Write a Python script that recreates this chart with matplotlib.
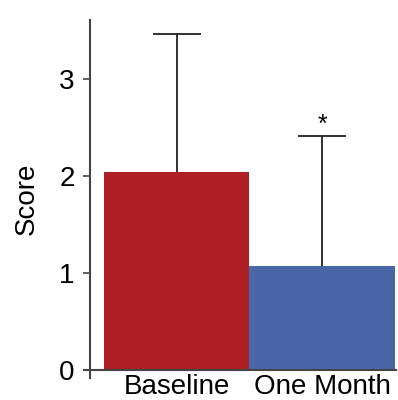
import matplotlib.pyplot as plt

plt.rcParams['font.family'] = ['Liberation Sans', 'DejaVu Sans']

# data
groups = ["Baseline", "One Month"]
means = [2.04, 1.07]
sd_upper = [1.43, 1.34]
bar_colors = ["#B01F26", "#4A66A6"]
significant = [False, True]

fig = plt.figure(figsize=(3.98, 4.0), dpi=100)
ax = fig.add_axes([0.211, 0.055, 0.784, 0.895])

x = list(range(len(groups)))
ax.bar(x, means, width=1.0, color=bar_colors, edgecolor="none", zorder=1)

# upper-only error bars with a cap on top
tops = [m + e for m, e in zip(means, sd_upper)]
ax.vlines(x, means, tops, color="#222222", lw=1.3, zorder=2)
ax.hlines(tops, [xi - 0.165 for xi in x], [xi + 0.165 for xi in x],
          color="#222222", lw=1.3, zorder=2)

for xi, t, sig in zip(x, tops, significant):
    if sig:
        ax.text(xi, t + 0.12, "*", ha="center", va="center", fontsize=18)

ax.set_xlim(-0.64, 1.51)
ax.set_ylim(-0.082, 3.61)
ax.set_yticks([0, 1, 2, 3])
ax.set_xticks(x)
ax.set_xticklabels(groups)
ax.set_ylabel("Score", fontsize=20, labelpad=14)

for s in ["top", "right"]:
    ax.spines[s].set_visible(False)
ax.spines["left"].set_position(("data", -0.6))
ax.spines["bottom"].set_position(("data", 0))
for s in ["left", "bottom"]:
    ax.spines[s].set_linewidth(1.5)
    ax.spines[s].set_color("#444444")

ax.tick_params(axis="y", length=5, width=1.2, color="#444444", labelsize=20, pad=6)
ax.tick_params(axis="x", length=0, labelsize=20, pad=3)

fig.savefig("out.png", dpi=100)
